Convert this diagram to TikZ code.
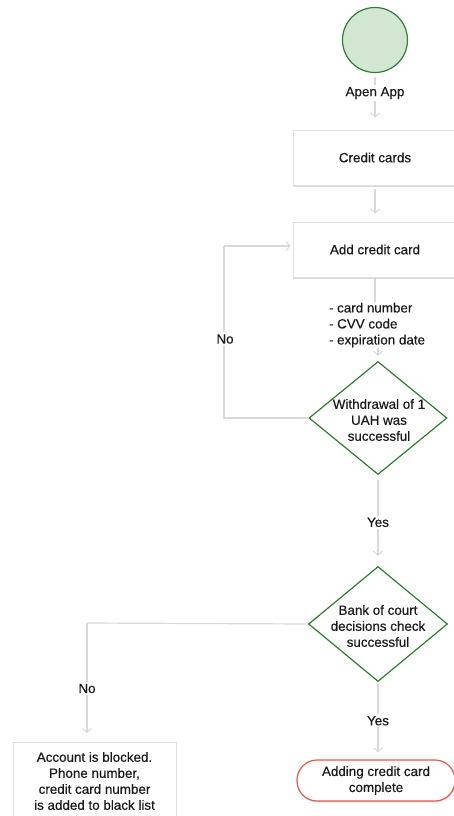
\documentclass[tikz,border=0pt]{standalone}
\usepackage{fontspec}
\setmainfont{Liberation Sans}
\newfontfamily\mainf{Liberation Sans}[FakeBold=0.35]
\usetikzlibrary{shapes.geometric,arrows.meta,shadows}
\definecolor{lnk}{HTML}{D9D9D9}
\definecolor{grn}{HTML}{2E7D32}
\definecolor{grnfill}{HTML}{D3E6D2}
\definecolor{redb}{HTML}{E5564B}
\definecolor{txt}{HTML}{1A1A1A}
\begin{document}
\begin{tikzpicture}[x=1pt,y=-1pt,
  font=\mainf\fontsize{13.4}{16}\selectfont, text=txt,
  conn/.style={draw=lnk, line width=1.2pt},
  arr/.style={conn, -{Straight Barb[length=4pt,width=9pt,line width=1pt]}},
  box/.style={draw=black!12, fill=white, line width=0.8pt, minimum width=164pt, minimum height=55pt, inner sep=0pt,
    drop shadow={opacity=0.25, shadow xshift=0pt, shadow yshift=-2pt, fill=black!60}},
  dia/.style={shape=diamond, draw=grn, line width=1.2pt, fill=white, inner sep=0pt},
  lbl/.style={fill=white, inner sep=2pt, align=center},
  endbox/.style={draw=redb, line width=1.2pt, fill=white, rounded corners=20pt, minimum width=158pt, minimum height=41pt, align=center, inner sep=0pt,
    drop shadow={opacity=0.15, shadow xshift=0pt, shadow yshift=-1.5pt, fill=black!60}}
]
\useasboundingbox (0,0) rectangle (454,816);
\clip (0,0) rectangle (454,816);

% nodes
\node[circle, draw=grn, fill=grnfill, line width=1.2pt, minimum size=65pt, inner sep=0pt] (start) at (375,40) {};
\node[lbl] (app) at (375,93) {Apen App};
\node[box] (cards) at (375,157.5) {Credit cards};
\node[box] (add) at (375,249.5) {Add credit card};
\node[lbl, align=left, inner sep=1pt] (fields) at (377,325) {- card number\\- CVV code\\- expiration date};
\node[dia, minimum width=138pt, minimum height=113pt] (d1) at (378,418) {};
\node[align=center, inner sep=0pt] (d1t) at (379,420) {Withdrawal of 1\\UAH was\\successful};
\node[dia, minimum width=139pt, minimum height=115pt] (d2) at (378,624) {};
\node[align=center, inner sep=0pt] (d2t) at (378,626) {Bank of court\\decisions check\\successful};
\node[box, minimum width=163pt, minimum height=78pt, align=center] (blocked) at (94.5,781) {Account is blocked.\\Phone number,\\credit card number\\is added to black list};
\node[endbox] (done) at (376,780.5) {Adding credit card\\complete};

% bend coordinates
\coordinate (loopL) at (224,418);
\coordinate (loopT) at (224,246);
\coordinate (addL) at (add.west |- loopT);
\coordinate (noL) at (87,623);
\coordinate (blkT) at (87,742);

% connectors
\draw[conn, shorten <=4pt] (start) -- (app);
\draw[arr, shorten >=12pt] (app) -- (cards);
\draw[arr, shorten <=4pt, shorten >=8pt] (cards) -- (add);
\draw[conn] (add.south) -- (fields.north -| add.south);
\draw[arr, shorten >=5pt] (fields.south -| d1.north) -- (d1.north);
\draw[conn] (d1.west) -- (loopL) -- (loopT);
\draw[arr, shorten >=2pt] (loopT) -- (addL);
\node[lbl] (no1) at (225,339) {No};
\draw[arr, shorten <=5pt, shorten >=10pt] (d1.south) -- node[lbl, pos=0.52] (yes1) {Yes} (d2.north);
\draw[conn] (d2.west) -- (noL);
\draw[arr, shorten >=9pt] (noL) -- node[lbl, pos=0.55] (no2) {No} (blkT);
\draw[arr, shorten <=2pt, shorten >=7pt] (d2.south) -- node[lbl, pos=0.5] (yes2) {Yes} (d2.south |- done.north);
\end{tikzpicture}
\end{document}
